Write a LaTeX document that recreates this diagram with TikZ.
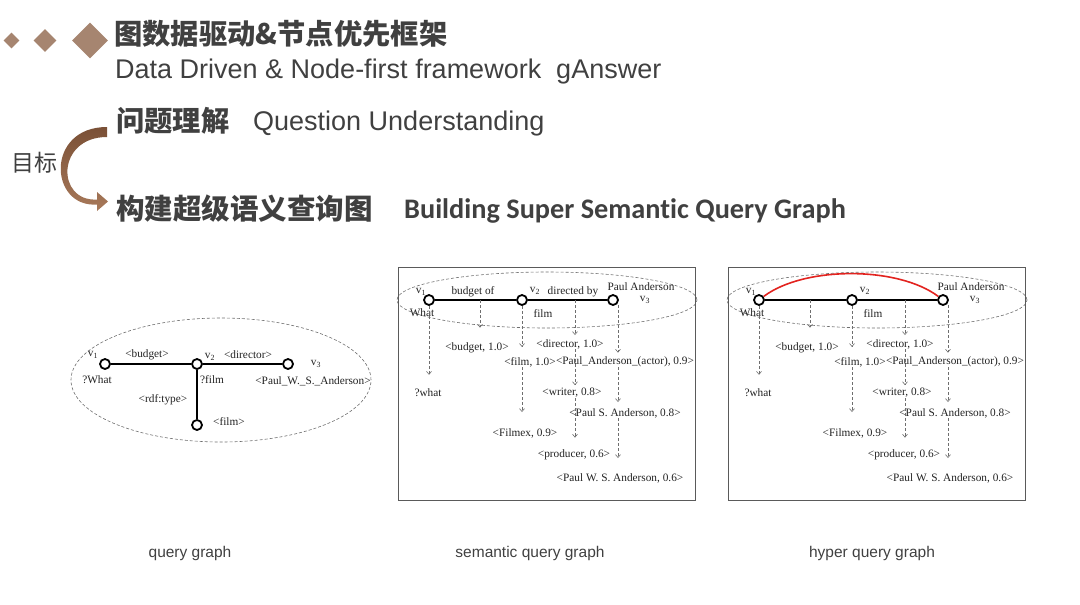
\documentclass[tikz,border=0pt]{standalone}
\usepackage{fontspec}
\usetikzlibrary{arrows.meta,shapes.geometric}
\newfontfamily\cjk{Noto Sans CJK SC}
\newfontfamily\hsans{Liberation Sans}
\newfontfamily\carl{Carlito}[Ligatures={NoCommon}]
\newfontfamily\tnr{Liberation Serif}
\definecolor{txt}{HTML}{404040}
\definecolor{gtxt}{HTML}{222222}
\definecolor{dia}{HTML}{A68570}
\definecolor{arrdark}{HTML}{7A5036}
\definecolor{arrlight}{HTML}{A8795A}
\definecolor{dgray}{HTML}{6E6E6E}
\definecolor{boxgray}{HTML}{5A5A5A}
\definecolor{arcred}{HTML}{E2231F}
\newcommand\semgraph[2]{%
\begin{scope}[xshift=#2]
\draw[dell] (547,300) ellipse [x radius=150pt, y radius=28pt];
\node[vtx] (#1v1) at (429,300) {};
\node[vtx] (#1v2) at (522,300) {};
\node[vtx] (#1v3) at (613,300) {};
\draw[thickedge] (#1v1) -- (#1v2) -- (#1v3);
\node[glab] (#1l1) at (421,292) {v\textsubscript{1}};
\node[glab] (#1l2) at (535,291) {v\textsubscript{2}};
\node[glab] (#1l3) at (645,300) {v\textsubscript{3}};
\node[glab] (#1pa) at (641,287) {Paul Anderson};
\node[glab] (#1wh) at (422,313) {What};
\node[glab] (#1fl) at (543,314) {film};
\node[glab] (#1bud) at (477,348) {<budget, 1.0>};
\node[glab] (#1flm) at (530,362) {<film, 1.0>};
\node[glab] (#1dir) at (570,344) {<director, 1.0>};
\node[glab] (#1act) at (625,362) {<Paul\_Anderson\_(actor), 0.9>};
\node[glab] (#1qw) at (428,393) {?what};
\node[glab] (#1wri) at (572,393) {<writer, 0.8>};
\node[glab] (#1psa) at (625,413) {<Paul S. Anderson, 0.8>};
\node[glab] (#1fmx) at (525,433) {<Filmex, 0.9>};
\node[glab] (#1pro) at (574,455) {<producer, 0.6>};
\node[glab] (#1pwsa) at (620,478) {<Paul W. S. Anderson, 0.6>};
\coordinate (#1e1) at (480,300);
\coordinate (#1e2) at (575,300);
\coordinate (#1e3) at (618,305);
\draw[darr,shorten >=14pt] (#1v1) -- (#1v1 |- #1qw.north);
\draw[darr,shorten >=15pt] (#1e1) -- (#1e1 |- #1bud.north);
\draw[darr,shorten >=10pt] (#1v2) -- (#1v2 |- #1flm.north);
\draw[darr,shorten >=16pt] (#1v2 |- #1flm.south) -- (#1v2 |- #1fmx.north);
\draw[darr,shorten >=4pt] (#1e2) -- (#1e2 |- #1dir.north);
\draw[darr,shorten >=3pt] (#1e2 |- #1dir.south) -- (#1e2 |- #1wri.north);
\draw[darr,shorten >=12pt] (#1e2 |- #1wri.south) -- (#1e2 |- #1pro.north);
\draw[darr,shorten >=4pt] (#1e3) -- (#1e3 |- #1act.north);
\draw[darr,shorten >=6pt] (#1e3 |- #1act.south) -- (#1e3 |- #1psa.north);
\draw[darr,shorten >=15pt] (#1e3 |- #1psa.south) -- (#1e3 |- #1pwsa.north);
\draw[boxst] (398,267) rectangle (695,500);
\end{scope}}
\begin{document}
\begin{tikzpicture}[x=1pt,y=-1pt,
  vtx/.style={circle,draw=black,line width=1.8pt,minimum size=10pt,inner sep=0pt,fill=white},
  thickedge/.style={line width=2.5pt,black},
  glab/.style={inner sep=0pt,text=gtxt,font=\tnr\fontsize{11.3}{13}\selectfont},
  dell/.style={dashed,dash pattern=on 3pt off 2pt,draw=dgray,line width=0.6pt},
  darr/.style={dashed,dash pattern=on 3pt off 2pt,draw=dgray,line width=0.6pt,-{Straight Barb[length=3pt,width=5pt]}},
  boxst/.style={draw=boxgray,line width=0.8pt},
  redarc/.style={draw=arcred,line width=1.6pt},
  hdr/.style={anchor=base west,inner sep=0pt,text=txt},
  captxt/.style={inner sep=0pt,text=txt,font=\hsans\fontsize{15.5}{18}\selectfont},
  dmd/.style={diamond,fill=dia,inner sep=0pt,aspect=1}]
\useasboundingbox (0,0) rectangle (1080,605);
% header
\node[dmd,minimum size=16pt] (d1) at (11.5,40.5) {};
\node[dmd,minimum size=23pt] (d2) at (45,40.5) {};
\node[dmd,minimum size=36pt] (d3) at (90,40.5) {};
\node[hdr,font=\cjk\bfseries\fontsize{28.3}{30}\selectfont] (ht1) at (114,44) {图数据驱动\&节点优先框架};
\node[hdr,font=\hsans\fontsize{27}{27}\selectfont] (ht2) at (115,78) {Data Driven \& Node-first framework\ \ gAnswer};
\node[hdr,font=\cjk\bfseries\fontsize{28.3}{28}\selectfont] (hq1) at (116,131) {问题理解};
\node[hdr,font=\hsans\fontsize{27}{27}\selectfont] (hq2) at (253,130) {Question Understanding};
\node[hdr,font=\cjk\bfseries\fontsize{28.5}{28}\selectfont] (hb1) at (116,219) {构建超级语义查询图};
\node[hdr,font=\carl\bfseries\fontsize{28.3}{28}\selectfont] (hb2) at (404,218) {Building Super Semantic Query Graph};
\node[hdr,font=\cjk\fontsize{23}{23}\selectfont] (goal) at (11,171) {目标};
\shade[top color=arrdark,bottom color=arrlight]
  (107,127) .. controls (45,127) and (49,208) .. (97,204.5)
  -- (97,211) -- (108,201.5) -- (97,192) -- (97,199.5)
  .. controls (56,202) and (56,137) .. (107,137) -- cycle;
% left query graph
\draw[dell] (221,380) ellipse [x radius=150pt, y radius=62pt];
\node[vtx] (a1) at (105,364) {};
\node[vtx] (a2) at (197,364) {};
\node[vtx] (a3) at (288,364) {};
\node[vtx] (a4) at (197,425) {};
\draw[thickedge] (a1) -- (a2) -- (a3);
\draw[thickedge] (a2) -- (a4);
\node[glab] (al1) at (93,355) {v\textsubscript{1}};
\node[glab] (aw) at (97,380) {?What};
\node[glab] (abud) at (147,355) {<budget>};
\node[glab] (al2) at (210,357) {v\textsubscript{2}};
\node[glab] (adir) at (248,355) {<director>};
\node[glab] (al3) at (316,364) {v\textsubscript{3}};
\node[glab] (afl) at (212,380) {?film};
\node[glab] (apwsa) at (313,381) {<Paul\_W.\_S.\_Anderson>};
\node[glab] (ardf) at (163,400) {<rdf:type>};
\node[glab] (afilm) at (229,422) {<film>};
% semantic query graph
\semgraph{b}{0}
\node[glab] (bbo) at (473,292) {budget of};
\node[glab] (bdb) at (573,292) {directed by};
% hyper query graph
\semgraph{c}{330}
\draw[redarc] (cv1) .. controls +(45,-34) and +(-45,-34) .. (cv3);
% captions
\node[captxt] (cap1) at (190,553) {query graph};
\node[captxt] (cap2) at (530,553) {semantic query graph};
\node[captxt] (cap3) at (872,553) {hyper query graph};
\end{tikzpicture}
\end{document}
